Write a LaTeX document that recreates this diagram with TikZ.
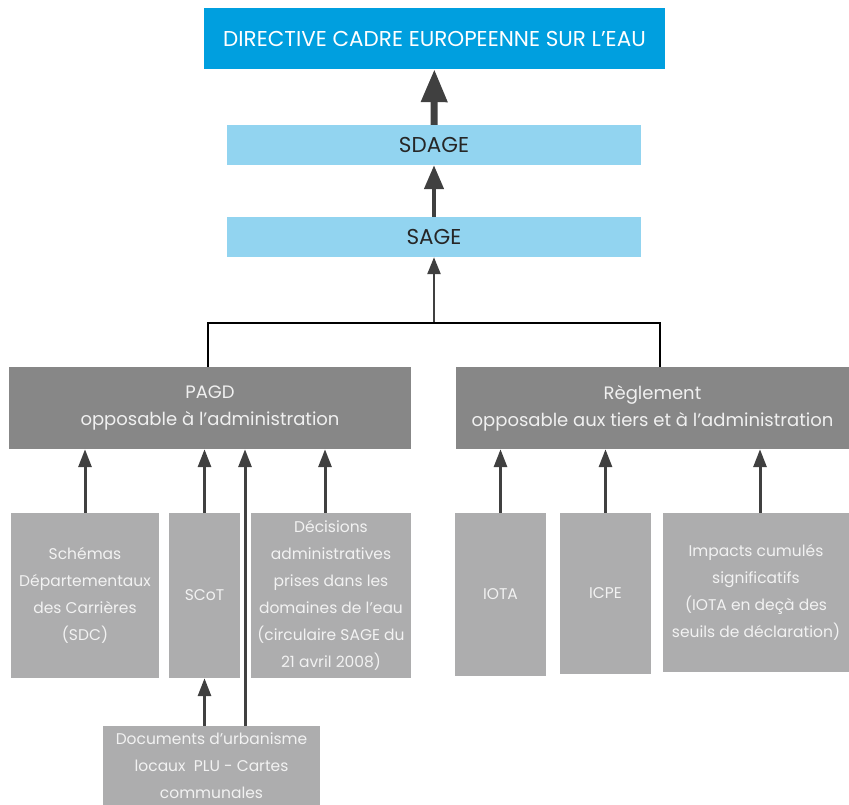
\documentclass[tikz,border=0pt]{standalone}
\usepackage{fontspec}
\setmainfont{Poppins}
\usetikzlibrary{arrows.meta}
\definecolor{dceblue}{HTML}{009FDF}
\definecolor{sdblue}{HTML}{92D4F0}
\definecolor{darkbox}{HTML}{878787}
\definecolor{lightbox}{HTML}{ADADAE}
\definecolor{arrowgray}{HTML}{404040}
\tikzset{
  box/.style={inner sep=0pt, align=center},
  topbox/.style={box, fill=lightbox, text=white!95!black, font=\fontsize{15.5}{27}\selectfont},
  arr/.style={draw=arrowgray, line width=3pt, -{Triangle[length=18pt,width=13pt]}}
}
\begin{document}
\begin{tikzpicture}[x=1pt,y=-1pt]
            \useasboundingbox (0,0) rectangle (849,805);
            % nodes
            \node (dce) [box, fill=dceblue, text=white, minimum width=461pt, minimum height=61pt, font=\fontsize{21.5}{24}\selectfont] at (434.5,38.5) {DIRECTIVE CADRE EUROPEENNE SUR L'EAU};
            \node (sdage) [box, fill=sdblue, text=black!85, minimum width=414pt, minimum height=40pt, font=\fontsize{21.5}{24}\selectfont] at (434,145) {SDAGE};
            \node (sage) [box, fill=sdblue, text=black!85, minimum width=414pt, minimum height=40pt, font=\fontsize{21.5}{24}\selectfont] at (434,237) {SAGE};
            \node (pagd) [box, fill=darkbox, text=white!94!black, minimum width=402pt, minimum height=82pt, font=\fontsize{18}{27}\selectfont] at (210,408) {PAGD\\opposable à l'administration};
            \node (regl) [box, fill=darkbox, text=white!94!black, minimum width=393pt, minimum height=82pt, font=\fontsize{18}{27}\selectfont] at (652.5,408) {Règlement\\opposable aux tiers et à l'administration};
            \node (sdc) [topbox, minimum width=148pt, minimum height=165pt] at (85,595.5) {Schémas\\Départementaux\\des Carrières\\(SDC)};
            \node (scot) [topbox, minimum width=71pt, minimum height=165pt] at (204.5,595.5) {SCoT};
            \node (decis) [topbox, minimum width=160pt, minimum height=165pt] at (331,595.5) {Décisions\\administratives\\prises dans les\\domaines de l'eau\\(circulaire SAGE du\\21 avril 2008)};
            \node (docs) [topbox, minimum width=217pt, minimum height=79pt] at (211.5,765.5) {Documents d'urbanisme\\locaux\ \ PLU - Cartes\\communales};
            \node (iota) [topbox, minimum width=91pt, minimum height=163pt] at (500.5,594.5) {IOTA};
            \node (icpe) [topbox, minimum width=91pt, minimum height=161pt] at (605.5,593.5) {ICPE};
            \node (imp) [topbox, minimum width=186pt, minimum height=159pt] at (756,592.5) {Impacts cumulés\\significatifs\\(IOTA en deçà des\\seuils de déclaration)};
            \coordinate (br) at (434,323);
            % arrows
            \draw[arr, line width=7pt, -{Triangle[length=33pt,width=25pt]}] (sdage) -- (dce);
            \draw[arr, line width=4.5pt, -{Triangle[length=24pt,width=19pt]}] (sage) -- (sdage);
            \draw[arr, line width=2.5pt, -{Triangle[length=17pt,width=13pt]}] (br) -- (sage);
            \draw[line width=2.5pt] ([xshift=-2pt]pagd.north) |- (br) -| ([xshift=7.5pt]regl.north);
            \draw[arr] (sdc.north) -- (sdc.north |- pagd.south);
            \draw[arr] (scot.north) -- (scot.north |- pagd.south);
            \draw[arr] ([xshift=-6pt]decis.north) -- ([xshift=-6pt]decis.north |- pagd.south);
            \draw[arr] (scot.south |- docs.north) -- (scot.south);
            \draw[arr] ([xshift=33.5pt]docs.north) -- ([xshift=33.5pt]docs.north |- pagd.south);
            \draw[arr] (iota.north) -- (iota.north |- regl.south);
            \draw[arr] (icpe.north) -- (icpe.north |- regl.south);
            \draw[arr] ([xshift=4pt]imp.north) -- ([xshift=4pt]imp.north |- regl.south);
        \end{tikzpicture}
\end{document}
